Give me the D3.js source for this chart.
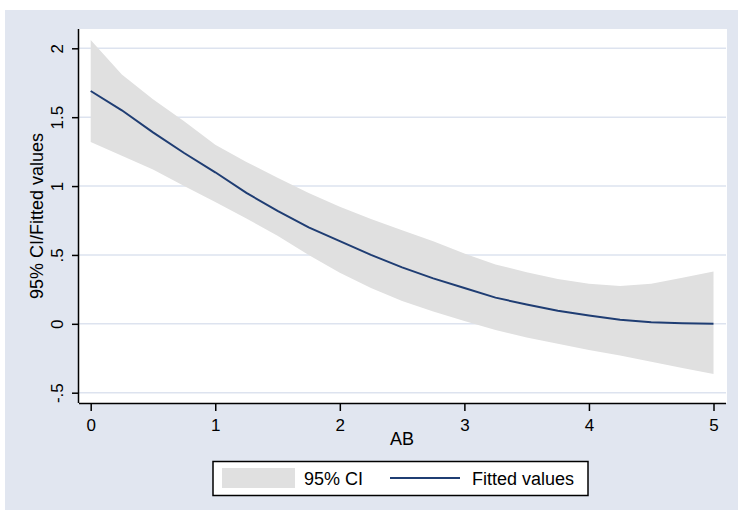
<!DOCTYPE html>
<html>
<head>
<meta charset="utf-8">
<script src="https://cdn.jsdelivr.net/npm/d3@7"></script>
<style>
  html, body { margin: 0; padding: 0; background: #ffffff; }
  svg { display: block; font-family: "Liberation Sans", Arial, sans-serif; }
</style>
</head>
<body>
<svg id="chart" width="738" height="511"></svg>
<script>
// ---- data ----
const xValues   = [0, 0.25, 0.5, 0.75, 1, 1.25, 1.5, 1.75, 2, 2.25, 2.5, 2.75, 3, 3.25, 3.5, 3.75, 4, 4.25, 4.5, 4.75, 5];
const fitted    = [1.69, 1.55, 1.39, 1.24, 1.10, 0.95, 0.82, 0.70, 0.60, 0.50, 0.41, 0.33, 0.26, 0.19, 0.14, 0.095, 0.06, 0.03, 0.012, 0.005, 0.0];
const ciUpper   = [2.06, 1.81, 1.63, 1.47, 1.30, 1.175, 1.06, 0.95, 0.85, 0.76, 0.68, 0.60, 0.51, 0.43, 0.375, 0.325, 0.29, 0.275, 0.29, 0.335, 0.38];
const ciLower   = [1.32, 1.22, 1.12, 1.00, 0.885, 0.765, 0.64, 0.50, 0.37, 0.26, 0.165, 0.09, 0.02, -0.045, -0.10, -0.145, -0.19, -0.23, -0.275, -0.32, -0.365];
const xTicks    = [0, 1, 2, 3, 4, 5];
const xTickLabels = ["0", "1", "2", "3", "4", "5"];
const yTicks    = [-0.5, 0, 0.5, 1, 1.5, 2];
const yTickLabels = ["-.5", "0", ".5", "1", "1.5", "2"];
const xTitle = "AB";
const yTitle = "95% CI/Fitted values";
const legendLabels = ["95% CI", "Fitted values"];

// ---- layout ----
const svg = d3.select("#chart");
const plot = { left: 79, right: 727, top: 29, bottom: 403 };
const x = d3.scaleLinear().domain([0, 5]).range([90.7, 713.5]);
const y = d3.scaleLinear().domain([-0.5, 2]).range([392.7, 48.3]);

const bgColor = "#e1e6f0";
const gridColor = "#dde3ef";
const bandColor = "#e0e0e0";
const lineColor = "#1f3d73";

// outer graph region
svg.append("rect").attr("x", 5).attr("y", 10).attr("width", 733).attr("height", 500).attr("fill", bgColor);
// plot region
svg.append("rect").attr("x", plot.left).attr("y", plot.top)
  .attr("width", plot.right - plot.left).attr("height", plot.bottom - plot.top).attr("fill", "#ffffff");

// gridlines
svg.append("g").selectAll("line").data(yTicks).join("line")
  .attr("x1", plot.left).attr("x2", plot.right - 1)
  .attr("y1", d => y(d)).attr("y2", d => y(d))
  .attr("stroke", gridColor).attr("stroke-width", 1.5);

const pts = xValues.map((v, i) => ({ x: v, f: fitted[i], lo: ciLower[i], hi: ciUpper[i] }));

// CI band
svg.append("path").datum(pts)
  .attr("d", d3.area().x(d => x(d.x)).y0(d => y(d.lo)).y1(d => y(d.hi)))
  .attr("fill", bandColor);

// fitted line
svg.append("path").datum(pts)
  .attr("d", d3.line().x(d => x(d.x)).y(d => y(d.f)))
  .attr("fill", "none").attr("stroke", lineColor).attr("stroke-width", 2);

// x axis
const xAxis = d3.axisBottom(x).tickValues(xTicks).tickSize(8).tickPadding(8)
  .tickFormat((d, i) => xTickLabels[i]);
const gx = svg.append("g").attr("transform", `translate(0,${plot.bottom})`).call(xAxis);
gx.select(".domain").attr("d", `M${plot.left},0.5H${plot.right - 1}`).attr("stroke", "#000").attr("stroke-width", 1.5);
gx.selectAll(".tick line").attr("stroke", "#000").attr("stroke-width", 1.5);
gx.selectAll(".tick text").attr("font-size", 17).attr("fill", "#000")
  .attr("font-family", "Liberation Sans, Arial, sans-serif");

// y axis
const yAxis = d3.axisLeft(y).tickValues(yTicks).tickSize(7).tickPadding(0)
  .tickFormat((d, i) => yTickLabels[i]);
const gy = svg.append("g").attr("transform", `translate(${plot.left},0)`).call(yAxis);
gy.select(".domain").attr("d", `M-0.5,${plot.top}V${plot.bottom}`).attr("stroke", "#000").attr("stroke-width", 1.5);
gy.selectAll(".tick line").attr("stroke", "#000").attr("stroke-width", 1.5);
gy.selectAll(".tick text")
  .attr("font-size", 17).attr("fill", "#000")
  .attr("font-family", "Liberation Sans, Arial, sans-serif")
  .attr("x", null).attr("dy", null)
  .attr("text-anchor", "middle")
  .attr("transform", "translate(-16,0) rotate(-90)");

// axis titles
svg.append("text").attr("x", x(2.5)).attr("y", 445)
  .attr("text-anchor", "middle").attr("font-size", 18).attr("fill", "#000").text(xTitle);
svg.append("text").attr("transform", `translate(43,${(plot.top + plot.bottom) / 2}) rotate(-90)`)
  .attr("text-anchor", "middle").attr("font-size", 18).attr("fill", "#000").text(yTitle);

// legend
const lg = svg.append("g");
lg.append("rect").attr("x", 213).attr("y", 461.5).attr("width", 375).attr("height", 34)
  .attr("fill", "#fff").attr("stroke", "#000").attr("stroke-width", 1.5);
lg.append("rect").attr("x", 222).attr("y", 468).attr("width", 73).attr("height", 20).attr("fill", bandColor);
lg.append("text").attr("x", 304).attr("y", 485).attr("font-size", 18).attr("fill", "#000").text(legendLabels[0]);
lg.append("line").attr("x1", 390).attr("x2", 460).attr("y1", 478).attr("y2", 478)
  .attr("stroke", lineColor).attr("stroke-width", 2);
lg.append("text").attr("x", 472).attr("y", 485).attr("font-size", 18).attr("fill", "#000").text(legendLabels[1]);
</script>
</body>
</html>
